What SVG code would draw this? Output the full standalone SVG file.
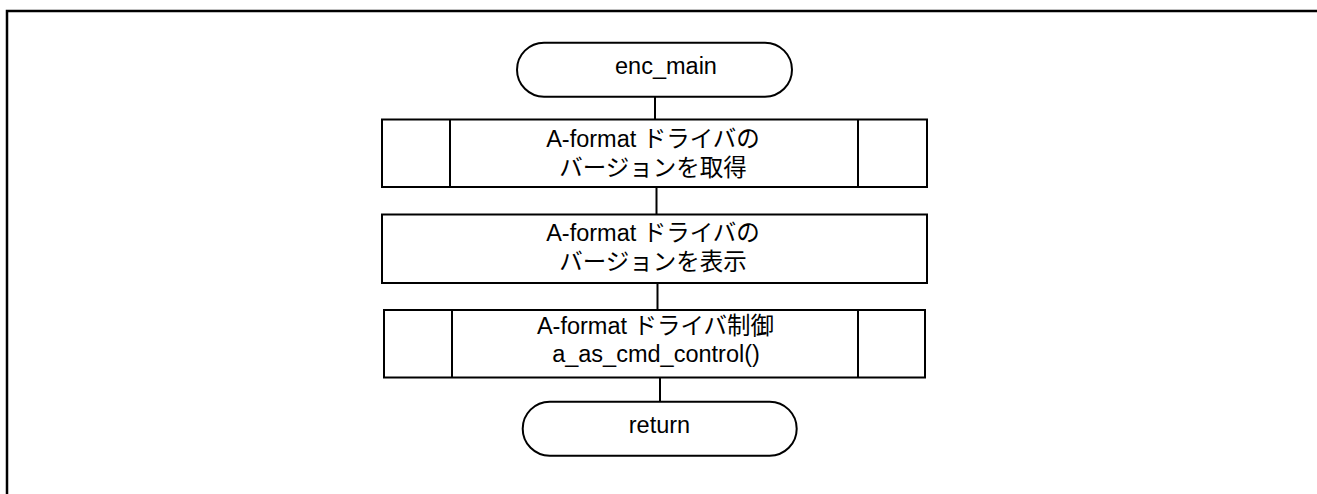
<svg xmlns="http://www.w3.org/2000/svg" width="1317" height="494" viewBox="0 0 1317 494">
<style>
.s{fill:#fff;stroke:#000;stroke-width:2}
.l{fill:none;stroke:#000;stroke-width:2}
.t{font-family:"Liberation Sans","Noto Sans CJK JP",sans-serif;font-size:23.5px;fill:#000;text-anchor:middle}
</style>
<rect width="1317" height="494" fill="#fff"/>
<path d="M7,494 V11 H1317" fill="none" stroke="#000" stroke-width="2.5"/>
<g id="connectors">
<line class="l" x1="655" y1="97" x2="655" y2="119.5"/>
<line class="l" x1="656.5" y1="187" x2="656.5" y2="214.5"/>
<line class="l" x1="657.5" y1="283" x2="657.5" y2="310"/>
<line class="l" x1="660" y1="377.5" x2="660" y2="401.7"/>
</g>
<g id="start">
<path class="s" d="M544,42.7 H765 A27,27 0 0 1 765,96.7 H544 A27,27 0 0 1 544,42.7 Z"/>
<text class="t" x="666" y="74">enc_main</text>
</g>
<g id="get_version">
<rect class="s" x="382" y="119.5" width="545" height="67.5"/>
<line class="l" x1="450" y1="119.5" x2="450" y2="187"/>
<line class="l" x1="858" y1="119.5" x2="858" y2="187"/>
<text class="t" x="653" y="147">A-format ドライバの</text>
<text class="t" x="653" y="176">バージョンを取得</text>
</g>
<g id="show_version">
<rect class="s" x="382" y="214.5" width="545" height="68.5"/>
<text class="t" x="653" y="241">A-format ドライバの</text>
<text class="t" x="653" y="270">バージョンを表示</text>
</g>
<g id="control">
<rect class="s" x="384" y="310" width="541" height="67.5"/>
<line class="l" x1="452" y1="310" x2="452" y2="377.5"/>
<line class="l" x1="858" y1="310" x2="858" y2="377.5"/>
<text class="t" x="655.5" y="333.5">A-format ドライバ制御</text>
<text class="t" x="656" y="362">a_as_cmd_control()</text>
</g>
<g id="end">
<path class="s" d="M549.7,401.7 H769.7 A27,27 0 0 1 769.7,455.7 H549.7 A27,27 0 0 1 549.7,401.7 Z"/>
<text class="t" x="659.5" y="432.5">return</text>
</g>
</svg>
